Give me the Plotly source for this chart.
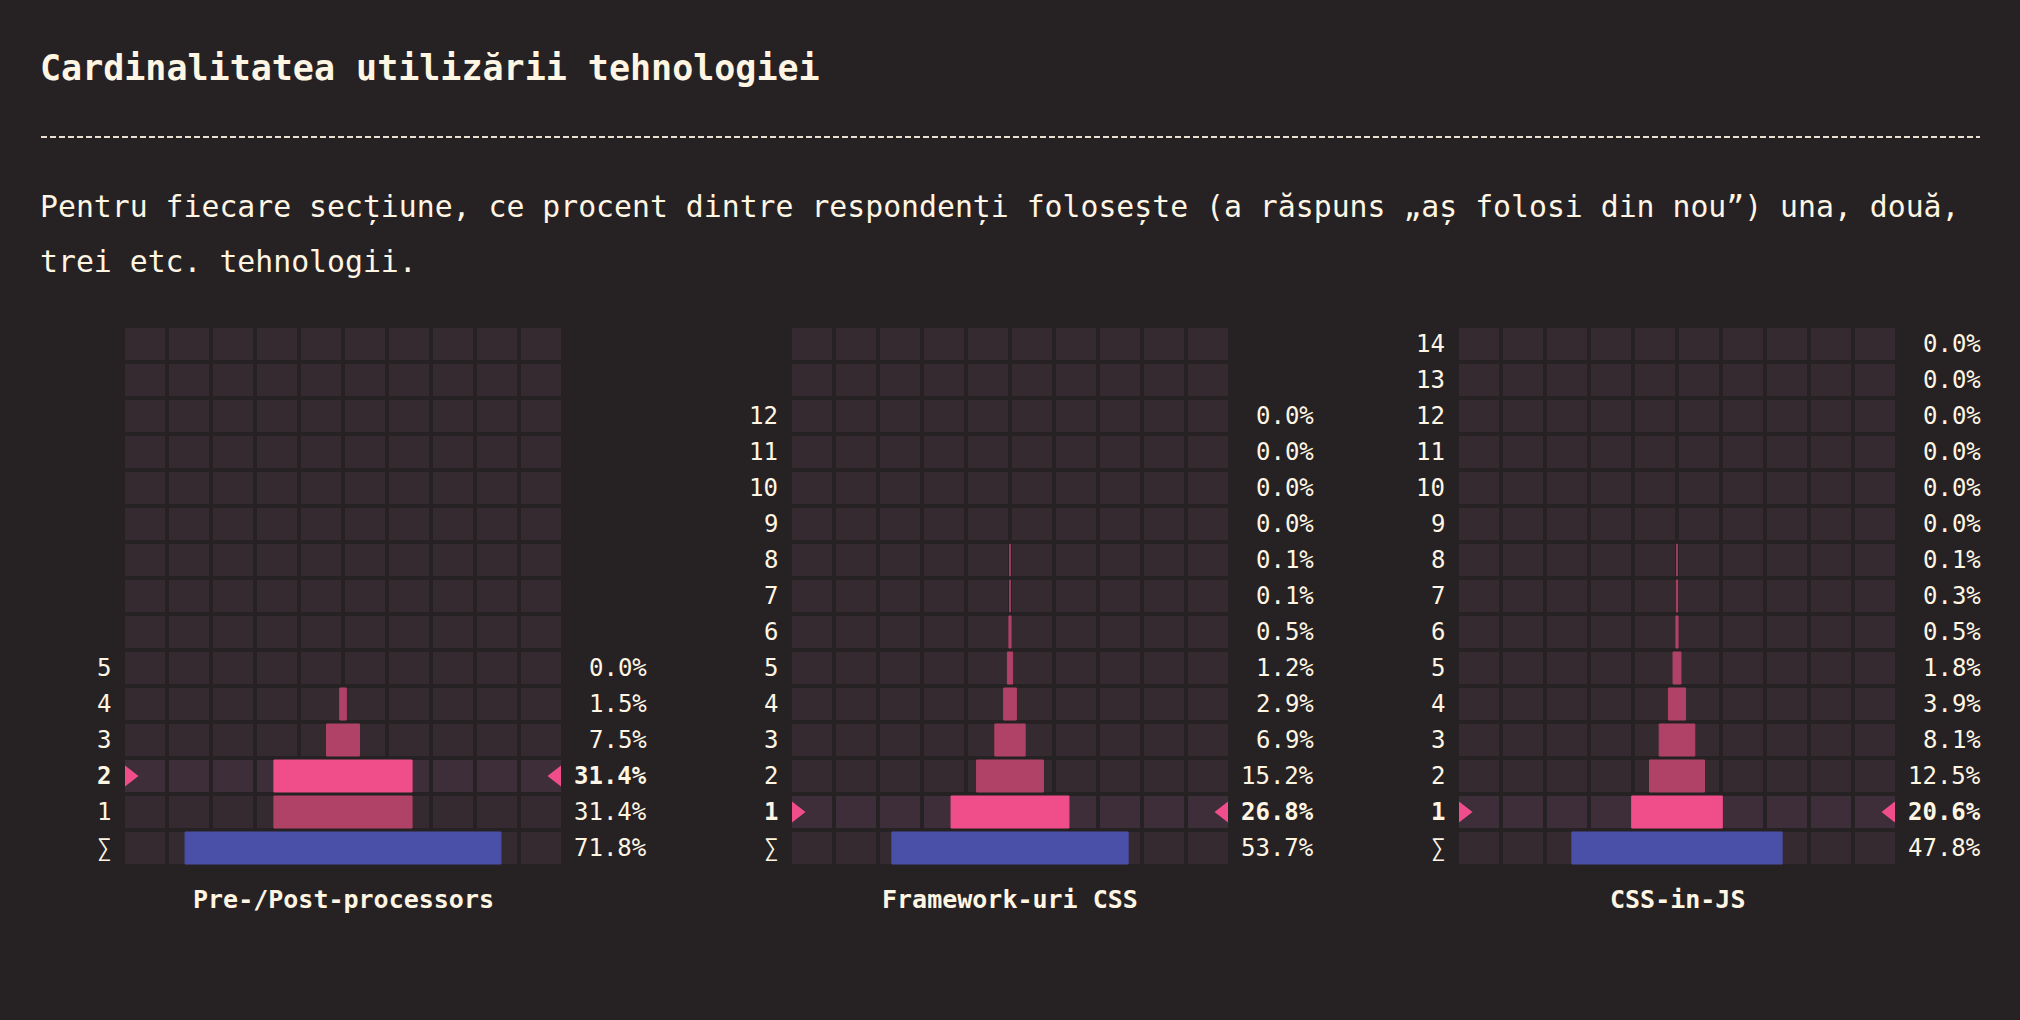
import plotly.graph_objects as go

# ---------------- data ----------------
title_text = "Cardinalitatea utilizării tehnologiei"
desc_line1 = "Pentru fiecare secțiune, ce procent dintre respondenți folosește (a răspuns „aș folosi din nou”) una, două,"
desc_line2 = "trei etc. tehnologii."

panel_titles = ["Pre-/Post-processors", "Framework-uri CSS", "CSS-in-JS"]

# values per row: index 0 = Σ (total), then 1, 2, 3 ...
pre_post_values = [71.8, 31.4, 31.4, 7.5, 1.5, 0.0]
frameworks_values = [53.7, 26.8, 15.2, 6.9, 2.9, 1.2, 0.5, 0.1, 0.1, 0.0, 0.0, 0.0, 0.0]
css_in_js_values = [47.8, 20.6, 12.5, 8.1, 3.9, 1.8, 0.5, 0.3, 0.1, 0.0, 0.0, 0.0, 0.0, 0.0, 0.0]

highlight_rows = [2, 1, 1]
panel_values = [pre_post_values, frameworks_values, css_in_js_values]

n_rows = 15       # Σ + 14
n_cols = 10

# ---------------- style ----------------
BG = "#262224"
CELL = "#352a30"
CELL_HI = "#3e2e39"
BAR = "#b04268"
BAR_HI = "#f04e8a"
BAR_SUM = "#4a50a8"
TXT = "#fff5e3"
FONT = "DejaVu Sans Mono"

W, H = 2020, 1020
grid_left_px = [123, 790, 1457]
grid_w_px = 440
grid_top_px, grid_bot_px = 326, 866

fig = go.Figure()
annotations = []

col_centers = [-45 + 10 * i for i in range(n_cols)]
row_idx = list(range(n_rows))
px_per_unit = grid_w_px / 100.0
tri_size = 18

for p in range(3):
    vals = panel_values[p]
    hi = highlight_rows[p]
    ax = "" if p == 0 else str(p + 1)
    xa, ya = "x" + ax, "y" + ax

    # background cells
    z = [[1 if r == hi else 0 for _ in range(n_cols)] for r in row_idx]
    fig.add_trace(go.Heatmap(
        x=col_centers, y=row_idx, z=z, zmin=0, zmax=1,
        colorscale=[[0, CELL], [1, CELL_HI]], showscale=False,
        xgap=4, ygap=4, hoverinfo="skip", xaxis=xa, yaxis=ya))

    # bars
    rows = list(range(len(vals)))
    colors = [BAR_SUM if r == 0 else (BAR_HI if r == hi else BAR) for r in rows]
    fig.add_trace(go.Bar(
        y=rows, x=vals, base=[-v / 2 for v in vals], orientation="h",
        width=32 / 36, marker=dict(color=colors,
                                   line=dict(color=colors, width=[1 if v > 0 else 0 for v in vals])),
        hoverinfo="skip", xaxis=xa, yaxis=ya))

    # highlight triangles
    off = (2 + tri_size / 4) / px_per_unit
    fig.add_trace(go.Scatter(
        x=[-50 + off, 50 - off], y=[hi, hi], mode="markers",
        marker=dict(symbol=["triangle-right", "triangle-left"], size=tri_size, color=BAR_HI),
        hoverinfo="skip", xaxis=xa, yaxis=ya))

    dom = [grid_left_px[p] / W, (grid_left_px[p] + grid_w_px) / W]
    fig.update_layout(**{
        ("xaxis" + ax): dict(domain=dom, range=[-50, 50], visible=False, fixedrange=True,
                             anchor=ya),
        ("yaxis" + ax): dict(domain=[1 - grid_bot_px / H, 1 - grid_top_px / H],
                             range=[-0.5, n_rows - 0.5], visible=False, fixedrange=True,
                             anchor=xa),
    })

    # row labels + percentages
    for r, v in enumerate(vals):
        lab = "∑" if r == 0 else str(r)
        pct = f"{v:.1f}%"
        if r == hi:
            lab, pct = f"<b>{lab}</b>", f"<b>{pct}</b>"
        annotations.append(dict(x=-50, y=r, xref=xa, yref=ya, text=lab, showarrow=False,
                                xanchor="right", yanchor="middle", xshift=-10,
                                font=dict(family=FONT, size=24, color=TXT)))
        annotations.append(dict(x=50, y=r, xref=xa, yref=ya, text=pct, showarrow=False,
                                xanchor="right", yanchor="middle", xshift=86,
                                font=dict(family=FONT, size=24, color=TXT)))

    annotations.append(dict(x=0, y=-0.5, xref=xa, yref=ya, text=f"<b>{panel_titles[p]}</b>",
                            showarrow=False, xanchor="center", yanchor="middle", yshift=-33,
                            font=dict(family=FONT, size=25, color=TXT)))

annotations.append(dict(x=38 / W, y=1 - 68 / H, xref="paper", yref="paper",
                        text=f"<b>{title_text}</b>", showarrow=False,
                        xanchor="left", yanchor="middle",
                        font=dict(family=FONT, size=35, color=TXT)))
annotations.append(dict(x=38 / W, y=1 - 207 / H, xref="paper", yref="paper",
                        text=desc_line1, showarrow=False, xanchor="left", yanchor="middle",
                        font=dict(family=FONT, size=29.8, color=TXT)))
annotations.append(dict(x=38 / W, y=1 - 261 / H, xref="paper", yref="paper",
                        text=desc_line2, showarrow=False, xanchor="left", yanchor="middle",
                        font=dict(family=FONT, size=29.8, color=TXT)))

fig.update_layout(
    width=W, height=H, margin=dict(l=0, r=0, t=0, b=0),
    paper_bgcolor=BG, plot_bgcolor=BG, showlegend=False, barmode="overlay",
    annotations=annotations,
    shapes=[dict(type="line", xref="paper", yref="paper", x0=41 / W, x1=1980 / W,
                 y0=1 - 137 / H, y1=1 - 137 / H,
                 line=dict(color="rgba(255,245,227,0.9)", width=1.8, dash="6px,3px"))],
)

fig.write_html("out.html", config={"displayModeBar": False})
